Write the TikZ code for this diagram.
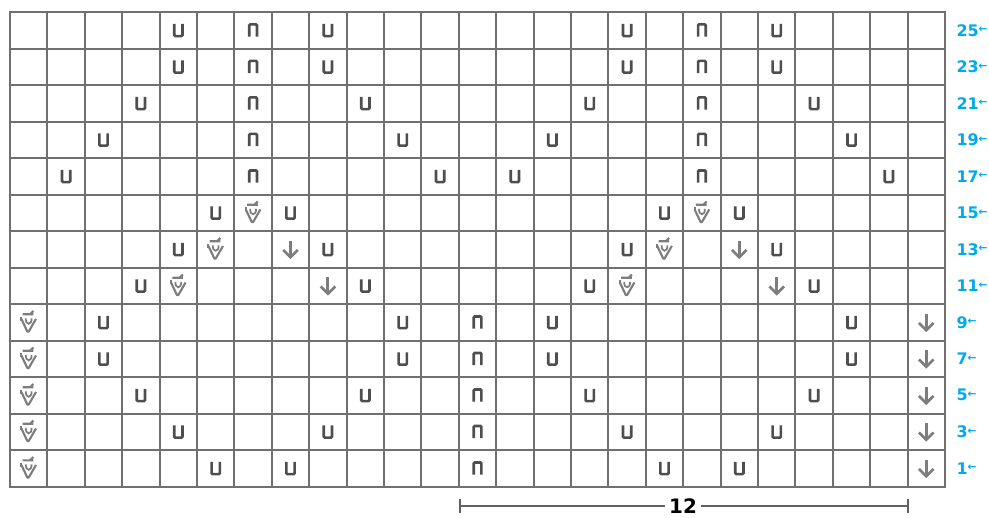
\documentclass[tikz,border=0pt]{standalone}
\usepackage{fontspec}
\setmainfont{DejaVu Sans}
\usepackage{tikz}
\usetikzlibrary{positioning}
\definecolor{chGrid} {RGB}{112,112,112}
\definecolor{chInk}  {RGB}{ 78, 78, 78}
\definecolor{chSoft} {RGB}{125,125,125}
\definecolor{chBlue} {RGB}{  0,170,235}
\definecolor{chBar}  {RGB}{ 96, 96, 96}

\tikzset{
  ustitch/.pic={\draw[chInk,line width=2pt,rounded corners=0.8pt]
      (-3.1pt,4.8pt) -- (-3.1pt,-4.4pt) -- (3.1pt,-4.4pt) -- (3.1pt,4.8pt);},
  nstitch/.pic={\draw[chInk,line width=2pt,rounded corners=0.8pt]
      (-2.9pt,-4.8pt) -- (-2.9pt,4.4pt) -- (2.9pt,4.4pt) -- (2.9pt,-4.8pt);},
  dnarrow/.pic={\draw[chSoft,line width=2.2pt] (0,6.5pt) -- (0,-6pt);
      \draw[chSoft,line width=2pt,line join=miter] (-5.5pt,-0.5pt) -- (0,-6pt) -- (5.5pt,-0.5pt);},
  bobble/.pic={\draw[chSoft,line width=1.6pt] (-4.5pt,6pt) -- (3.5pt,6pt) (1pt,6pt) -- (3.5pt,8.5pt);
      \draw[chSoft,line width=1.6pt,line join=round] (-5.5pt,2.5pt) -- (-1pt,-7pt) -- (0,-7pt) -- (5.5pt,2.5pt);
      \draw[chSoft,line width=1.3pt] (-2.2pt,3pt) .. controls (-2.5pt,-2.5pt) and (2.5pt,-2.5pt) .. (2.2pt,3pt);
      \draw[chSoft,line width=1.4pt] (-5.5pt,4pt) -- (-5.5pt,1pt);}
}

\begin{document}
\begin{tikzpicture}[
  x=0.02646cm, y=-0.02646cm,
  gridline/.style={chGrid,line width=1.5pt,line cap=rect},
  rowlabel/.style={text=chBlue,font=\fontsize{12}{13}\selectfont\bfseries,
                   anchor=west,inner sep=0pt},
  barline/.style={chBar,line width=1.3pt},
  barlabel/.style={font=\fontsize{15}{16}\selectfont\bfseries,fill=white,
                   inner xsep=3pt,inner ysep=1pt}
]
\useasboundingbox (0,0) rectangle (989,517);

\begin{scope}[shift={(10,12)}, x=0.98960cm, y=-0.96579cm]
% grid
\foreach \c in {0,...,25}
  \draw[gridline] (\c,0) -- (\c,13);
\foreach \i in {0,...,13}
  \draw[gridline] (0,\i) -- (25,\i);

% stitches
\foreach \i/\cols in {1/{5,9,17,21},2/{5,9,17,21},3/{4,10,16,22},4/{3,11,15,23},
                      5/{2,12,14,24},6/{6,8,18,20},7/{5,9,17,21},8/{4,10,16,22},
                      9/{3,11,15,23},10/{3,11,15,23},11/{4,10,16,22},
                      12/{5,9,17,21},13/{6,8,18,20}}
  \foreach \c in \cols
    \pic at (\c-0.5,\i-0.5) {ustitch};
\foreach \i in {1,...,5}
  \foreach \c in {7,19}
    \pic at (\c-0.5,\i-0.5) {nstitch};
\foreach \i in {9,...,13} {
  \pic at (12.5,\i-0.5) {nstitch};
  \pic at (0.5,\i-0.5) {bobble};
  \pic at (24.5,\i-0.5) {dnarrow};
}
\foreach \i/\c in {6/7,6/19,7/6,7/18,8/5,8/17}
  \pic at (\c-0.5,\i-0.5) {bobble};
\foreach \i/\c in {7/8,7/20,8/9,8/21}
  \pic at (\c-0.5,\i-0.5) {dnarrow};

% row numbers
\foreach \n [count=\i] in {25,23,...,1}
  \node[rowlabel] (r\n) at (25.3,\i-0.5)
    {\n\raisebox{2.5pt}{\fontsize{8}{9}\selectfont←}};
\end{scope}

% width bar
\coordinate (barL) at (460,506);
\coordinate (barR) at (908,506);
\node[barlabel] (barnum) at (683,506) {12};
\draw[barline] (barL) -- (barnum);
\draw[barline] (barnum) -- (barR);
\draw[barline,line width=2pt] ([yshift=5pt]barL) -- ([yshift=-5pt]barL);
\draw[barline,line width=2pt] ([yshift=5pt]barR) -- ([yshift=-5pt]barR);
\end{tikzpicture}
\end{document}
